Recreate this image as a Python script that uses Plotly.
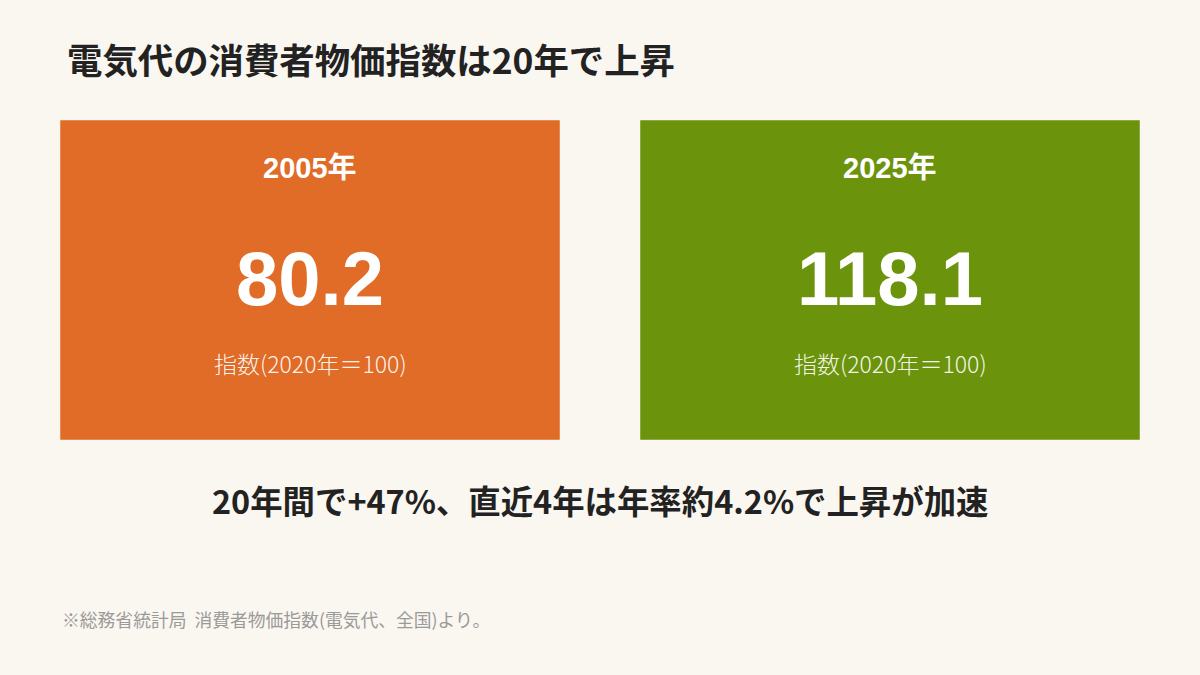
import plotly.graph_objects as go

title = "電気代の消費者物価指数は20年で上昇"
years = ["2005年", "2025年"]
values = [80.2, 118.1]
unit_label = "指数(2020年＝100)"
card_colors = ["#E06C27", "#6B940C"]
summary = "20年間で+47%、直近4年は年率約4.2%で上昇が加速"
source = "※総務省統計局  消費者物価指数(電気代、全国)より。"

bg = "#FAF6F0"
jp = "Noto Sans CJK JP"
num_font = "Liberation Sans, Noto Sans CJK JP"

fig = go.Figure()

# cards: one full-height bar per year
fig.add_trace(go.Bar(
    x=years,
    y=[1] * len(years),
    width=500 / 580,
    marker=dict(color=card_colors, line=dict(color="rgba(255,255,255,0.45)", width=1)),
    hoverinfo="skip",
    showlegend=False,
))

for yr, v in zip(years, values):
    fig.add_annotation(x=yr, y=0.85, text=yr, showarrow=False,
                       font=dict(family=num_font, size=29, color="white", weight=700))
    fig.add_annotation(x=yr, y=0.505, text=f"{v:.1f}", showarrow=False,
                       font=dict(family=num_font, size=76, color="white", weight=700))
    fig.add_annotation(x=yr, y=0.24, text=unit_label, showarrow=False,
                       font=dict(family=jp, size=23, color="rgba(255,255,255,0.92)", weight=300))

fig.add_annotation(xref="paper", yref="paper", x=0.5, y=-0.185, text=summary,
                   showarrow=False, xanchor="center", yanchor="middle",
                   font=dict(family=jp, size=32.4, color="#222222", weight=700))
fig.add_annotation(xref="paper", yref="paper", x=0, y=-0.56, text=source,
                   showarrow=False, xanchor="left", yanchor="middle",
                   font=dict(family=jp, size=17.8, color="#9a9a9a", weight=400))

half = 1080 / 580 / 2
fig.update_layout(
    width=1200, height=675,
    paper_bgcolor=bg, plot_bgcolor=bg,
    margin=dict(l=60, r=60, t=120, b=235),
    title=dict(text=title, x=67 / 1200, xref="container", xanchor="left",
               y=1 - 62 / 675, yref="container", yanchor="middle",
               font=dict(family=jp, size=35.4, color="#222222", weight=700)),
    xaxis=dict(visible=False, range=[0.5 - half, 0.5 + half]),
    yaxis=dict(visible=False, range=[0, 1]),
)

fig.write_html("out.html", config={"displayModeBar": False},
               post_script="document.body.style.margin='0';")
